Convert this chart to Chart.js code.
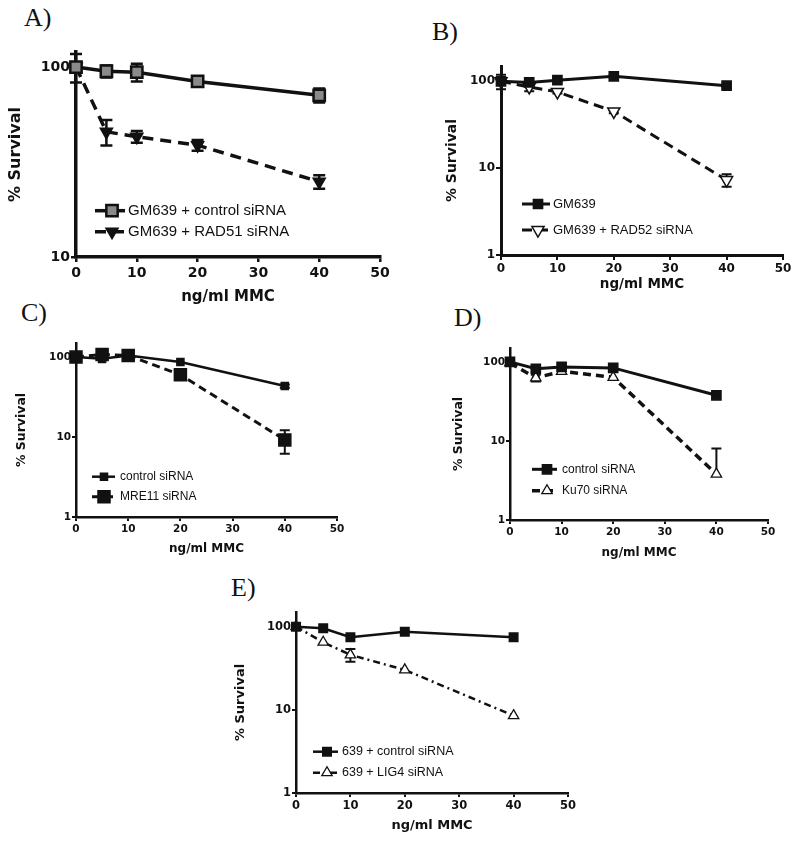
<!DOCTYPE html>
<html><head><meta charset="utf-8">
<script src="https://cdn.jsdelivr.net/npm/chart.js@4/dist/chart.umd.min.js"></script>
<style>
body{margin:0;background:#fff;width:800px;height:845px;position:relative;overflow:hidden}
canvas{position:absolute}
.lbl{position:absolute;font-family:"Liberation Serif","Times New Roman",serif;font-size:26px;color:#111;line-height:1}
</style></head><body>
<div class="lbl" style="left:24px;top:5px">A)</div>
<div class="lbl" style="left:432px;top:19px">B)</div>
<div class="lbl" style="left:21px;top:300px">C)</div>
<div class="lbl" style="left:454px;top:305px">D)</div>
<div class="lbl" style="left:231px;top:575px">E)</div>
<canvas id="cA" width="400" height="266" style="left:0;top:40px"></canvas>
<canvas id="cB" width="358" height="243" style="left:440px;top:50px"></canvas>
<canvas id="cC" width="352" height="231" style="left:0;top:325px"></canvas>
<canvas id="cD" width="343" height="230" style="left:440px;top:330px"></canvas>
<canvas id="cE" width="364" height="233" style="left:220px;top:600px"></canvas>
<script>
// ---------- data ----------
const doses = [0, 5, 10, 20, 40];
const xTicks = [0, 10, 20, 30, 40, 50];
const yTicksA = [10, 100];
const yTicksLog = [1, 10, 100];
const xTitle = 'ng/ml MMC';
const yTitle = '% Survival';

// Panel A
const labelsA = ['GM639 + control siRNA', 'GM639 + RAD51 siRNA'];
const ctrlA = [100, 95, 94, 84, 71];
const ctrlAErr = [3, 7, 10, 2, 6];
const rad51A = [100, 45.6, 43, 38.8, 24.9];
const rad51AErr = [17, 7, 3, 2.5, 2];

// Panel B
const labelsB = ['GM639', 'GM639 + RAD52 siRNA'];
const gm639B = [100, 97, 103, 114, 89];
const gm639BErr = [3, 3, 3, 4, 3];
const rad52B = [100, 86, 75.5, 45, 7.3];
const rad52BErr = [19, 9, 3, 2, 1.2];

// Panel C
const labelsC = ['control siRNA', 'MRE11 siRNA'];
const ctrlC = [100, 95, 105, 86.6, 43.4];
const ctrlCErr = [0, 0, 0, 0, 2];
const mre11C = [100, 108, 105, 60, 9.2];
const mre11CErr = [0, 0, 0, 0, 3];

// Panel D
const labelsD = ['control siRNA', 'Ku70 siRNA'];
const ctrlD = [100, 82, 86.5, 84, 37.8];
const ctrlDErr = [0, 0, 0, 0, 0];
const ku70D = [97, 62.7, 76, 63.8, 3.8];
const ku70DErrUp = [0, 6, 0, 0, 4.2];
const ku70DErrDown = [0, 6, 0, 0, 0];

// Panel E
const labelsE = ['639 + control siRNA', '639 + LIG4 siRNA'];
const ctrlE = [100, 95.6, 74.6, 87, 74.6];
const ctrlEErr = [0, 0, 0, 0, 0];
const lig4E = [100, 65, 45.8, 30.2, 8.5];
const lig4EErr = [0, 0, 8, 0, 0];

// ---------- helpers ----------
const INK = '#111';
Chart.defaults.font.family = 'DejaVu Sans';
Chart.defaults.color = INK;

const errPlugin = {
  id: 'errBars',
  beforeDatasetsDraw(chart) {
    const ctx = chart.ctx, xs = chart.scales.x, ys = chart.scales.y;
    chart.data.datasets.forEach(ds => {
      if (!ds.errUp) return;
      ctx.save();
      ctx.strokeStyle = INK; ctx.lineWidth = ds.errWidth || 2; ctx.setLineDash([]);
      ds.data.forEach((p, i) => {
        const up = ds.errUp[i] || 0, dn = (ds.errDown || ds.errUp)[i] || 0;
        if (!up && !dn) return;
        const x = xs.getPixelForValue(p.x);
        const yc = ys.getPixelForValue(p.y);
        const y1 = up ? ys.getPixelForValue(p.y + up) : yc;
        const y2 = dn ? ys.getPixelForValue(Math.max(p.y - dn, ys.min)) : yc;
        const c = ds.capHalf || 5;
        ctx.beginPath();
        ctx.moveTo(x, y1); ctx.lineTo(x, y2);
        if (up) { ctx.moveTo(x - c, y1); ctx.lineTo(x + c, y1); }
        if (dn) { ctx.moveTo(x - c, y2); ctx.lineTo(x + c, y2); }
        ctx.stroke();
      });
      ctx.restore();
    });
  }
};

function makeLegend(L) {
  return {
    id: 'panelLegend',
    afterDraw(chart) {
      const ctx = chart.ctx;
      chart.data.datasets.forEach((ds, i) => {
        const y = L.rows[i];
        ctx.save();
        ctx.strokeStyle = ds.borderColor; ctx.lineWidth = ds.borderWidth;
        ctx.setLineDash(ds.legendDash || ds.borderDash || []);
        ctx.beginPath(); ctx.moveTo(L.x0, y); ctx.lineTo(L.x1, y); ctx.stroke();
        ctx.setLineDash([]);
        ctx.fillStyle = ds.pointBackgroundColor; ctx.strokeStyle = ds.pointBorderColor;
        ctx.lineWidth = ds.pointBorderWidth;
        Chart.helpers.drawPoint(ctx, {
          pointStyle: ds.pointStyle, rotation: ds.pointRotation || 0,
          radius: ds.pointRadius, borderWidth: ds.pointBorderWidth
        }, L.mx !== undefined ? L.mx : (L.x0 + L.x1) / 2, y);
        ctx.fillStyle = INK; ctx.font = L.font; ctx.textBaseline = 'middle'; ctx.textAlign = 'left';
        ctx.fillText(ds.label, L.tx, y);
        ctx.restore();
      });
    }
  };
}

function pts(vals) { return doses.map((d, i) => ({ x: d, y: vals[i] })); }

function makePanel(id, P) {
  const tickFont = { family: 'DejaVu Sans', weight: 'bold', size: P.tickSize };
  const titleFont = { family: 'DejaVu Sans', weight: 'bold', size: P.titleSize };
  new Chart(document.getElementById(id), {
    type: 'line',
    data: { datasets: P.datasets },
    options: {
      responsive: false, animation: false, events: [],
      layout: { padding: { left: 0, top: P.padTop, right: P.padRight, bottom: 0 } },
      plugins: { legend: { display: false }, tooltip: { enabled: false } },
      scales: {
        x: {
          type: 'linear', min: 0, max: 50,
          afterFit: s => { s.height = P.hx; },
          afterBuildTicks: s => { s.ticks = xTicks.map(v => ({ value: v })); },
          ticks: { font: tickFont, color: INK, padding: P.xTickPad, maxRotation: 0, autoSkip: false },
          grid: { drawOnChartArea: false, drawTicks: true, tickLength: P.tickLen, color: INK, lineWidth: P.tickW },
          border: { display: true, color: INK, width: P.axisW },
          title: { display: true, text: xTitle, font: { family: 'DejaVu Sans', weight: 'bold', size: P.xTitleSize }, color: INK, padding: { top: 0, bottom: 0 } }
        },
        y: {
          type: 'logarithmic', min: P.ymin, max: P.ymax,
          afterFit: s => { s.width = P.wy; },
          afterBuildTicks: s => { s.ticks = P.yTicks.map(v => ({ value: v })); },
          ticks: { font: tickFont, color: INK, padding: 1, callback: v => String(v) },
          grid: { drawOnChartArea: false, drawTicks: true, tickLength: P.tickLen, color: INK, lineWidth: P.tickW },
          border: { display: true, color: INK, width: P.axisW },
          title: { display: true, text: yTitle, font: titleFont, color: INK, padding: { top: P.yTitlePad, bottom: 0 } }
        }
      }
    },
    plugins: [errPlugin, makeLegend(P.legend)]
  });
}

function ds(label, vals, o) {
  return Object.assign({
    label, data: pts(vals), borderColor: INK, borderWidth: 3, fill: false, tension: 0,
    pointBackgroundColor: INK, pointBorderColor: INK, pointBorderWidth: 1.5,
    pointStyle: 'rect', pointRadius: 6, pointRotation: 0, clip: false, capHalf: 5, errWidth: 2
  }, o);
}

// ---------- panels ----------
makePanel('cA', {
  ymin: 10, ymax: 120, yTicks: yTicksA, padTop: 12, padRight: 20, hx: 49, wy: 76,
  tickSize: 14, titleSize: 16, xTitleSize: 15, yTitlePad: 6, xTickPad: 3, tickLen: 5, tickW: 2.5, axisW: 3.5,
  legend: { x0: 95, x1: 125, mx: 112, tx: 128, rows: [170.7, 191.7], font: '15px "Liberation Sans", Arial, sans-serif' },
  datasets: [
    ds(labelsA[0], ctrlA, { borderWidth: 3.5, pointBackgroundColor: '#8a8a8a', pointBorderWidth: 2.5, pointRadius: 8, errUp: ctrlAErr, capHalf: 6, errWidth: 2.5 }),
    ds(labelsA[1], rad51A, { borderWidth: 3.5, borderDash: [11, 7], pointStyle: 'triangle', pointRotation: 180, pointRadius: 7, errUp: rad51AErr, capHalf: 6, errWidth: 2.5 })
  ]
});

makePanel('cB', {
  ymin: 1, ymax: 150, yTicks: yTicksLog, padTop: 16, padRight: 15, hx: 38, wy: 61,
  tickSize: 12, titleSize: 14, xTitleSize: 13.5, yTitlePad: 3.6, xTickPad: 2, tickLen: 5, tickW: 2, axisW: 3,
  legend: { x0: 82, x1: 110, mx: 98, tx: 113, rows: [154, 180], font: '13px "Liberation Sans", Arial, sans-serif' },
  datasets: [
    ds(labelsB[0], gm639B, { pointRadius: 6.5, errUp: gm639BErr }),
    ds(labelsB[1], rad52B, { borderDash: [10, 6], pointStyle: 'triangle', pointRotation: 180, pointRadius: 7, pointBackgroundColor: '#fff', pointBorderWidth: 1.5, errUp: rad52BErr })
  ]
});

makePanel('cC', {
  ymin: 1, ymax: 150, yTicks: yTicksLog, padTop: 18, padRight: 15, hx: 39, wy: 76,
  tickSize: 10.5, titleSize: 12.5, xTitleSize: 12, yTitlePad: 14.5, xTickPad: 2, tickLen: 4, tickW: 2, axisW: 2.5,
  legend: { x0: 92, x1: 115, mx: 104, tx: 120, rows: [151.7, 171.7], font: '12px "Liberation Sans", Arial, sans-serif' },
  datasets: [
    ds(labelsC[0], ctrlC, { borderWidth: 2.5, pointRadius: 5, errUp: ctrlCErr }),
    ds(labelsC[1], mre11C, { borderWidth: 3, borderDash: [8, 5], pointRadius: 8.5, errUp: mre11CErr })
  ]
});

makePanel('cD', {
  ymin: 1, ymax: 150, yTicks: yTicksLog, padTop: 18, padRight: 15, hx: 40, wy: 70,
  tickSize: 10.5, titleSize: 12.5, xTitleSize: 12, yTitlePad: 11.5, xTickPad: 2, tickLen: 4, tickW: 2, axisW: 2.5,
  legend: { x0: 92, x1: 117, mx: 107, tx: 122, rows: [139.3, 160.7], font: '12px "Liberation Sans", Arial, sans-serif' },
  datasets: [
    ds(labelsD[0], ctrlD, { pointRadius: 6.5, errUp: ctrlDErr }),
    ds(labelsD[1], ku70D, { borderWidth: 3.5, borderDash: [8, 5], pointStyle: 'triangle', pointRadius: 6, pointBackgroundColor: '#fff', pointBorderWidth: 1.3, errUp: ku70DErrUp, errDown: ku70DErrDown })
  ]
});

makePanel('cE', {
  ymin: 1, ymax: 150, yTicks: yTicksLog, padTop: 12, padRight: 16, hx: 40, wy: 76,
  tickSize: 11.5, titleSize: 13, xTitleSize: 13, yTitlePad: 13, xTickPad: 2, tickLen: 4, tickW: 2, axisW: 2.5,
  legend: { x0: 93, x1: 118, mx: 107, tx: 122, rows: [151.7, 172.7], font: '12.5px "Liberation Sans", Arial, sans-serif' },
  datasets: [
    ds(labelsE[0], ctrlE, { borderWidth: 2.5, pointRadius: 6, errUp: ctrlEErr }),
    ds(labelsE[1], lig4E, { borderWidth: 2.5, borderDash: [7, 4, 2, 4], pointStyle: 'triangle', pointRadius: 6, pointBackgroundColor: '#fff', pointBorderWidth: 1.3, errUp: lig4EErr })
  ]
});
</script>
</body></html>
